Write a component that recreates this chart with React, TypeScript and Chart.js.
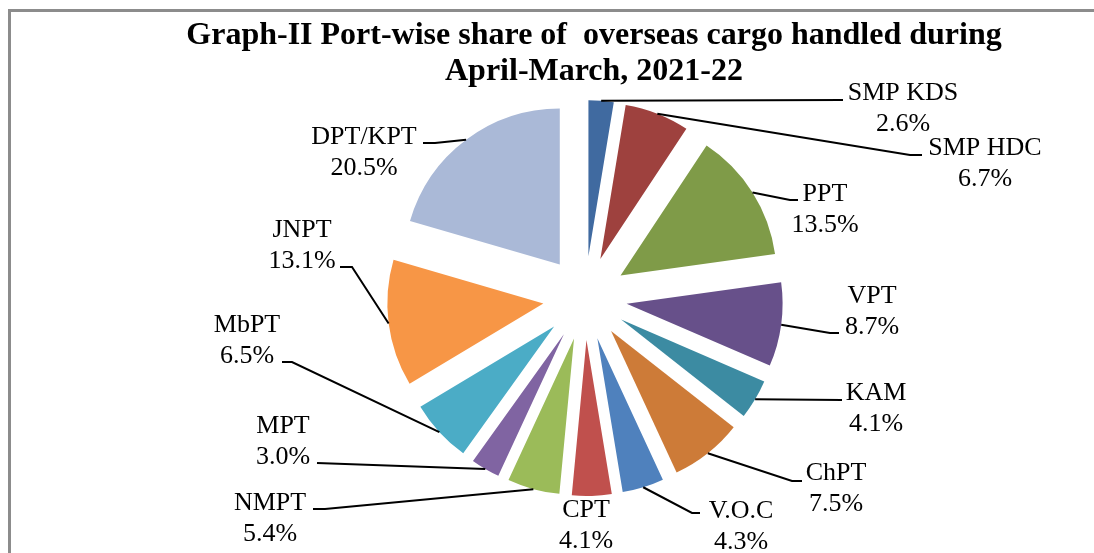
import React, { useEffect, useRef } from "react";
import { Chart, registerables } from "chart.js";

Chart.register(...registerables);

// ---- data ----
const ports = ["SMP KDS", "SMP HDC", "PPT", "VPT", "KAM", "ChPT", "V.O.C", "CPT", "NMPT", "MPT", "MbPT", "JNPT", "DPT/KPT"];
const shares = [2.6, 6.7, 13.5, 8.7, 4.1, 7.5, 4.3, 4.1, 5.4, 3.0, 6.5, 13.1, 20.5];
const titleLines = ["Graph-II Port-wise share of  overseas cargo handled during", "April-March, 2021-22"];

// ---- styles ----
const sliceColors = [
  "#406AA0", "#9E413E", "#7F9B48", "#67508A", "#3C8BA2", "#CD7B38",
  "#4F81BD", "#C0504D", "#9BBB59", "#8064A2", "#4BACC6", "#F79646", "#AAB9D7",
];

// label layout relative to pie centre (px): text centre x / first baseline y
const labelText: [number, number][] = [
  [318, -198], [400, -143], [240, -97], [287, 5], [291, 102], [251, 182],
  [156, 220], [1, 219], [-315, 212], [-302, 135], [-338, 34], [-283, -61], [-221, -154],
];
// leader line elbow (or null) and end point
const leaderElbow: ([number, number] | null)[] = [
  null, [325, -143], [205, -98], [245, 35], null, [207, 183],
  [107, 215], null, [-260, 211], null, [-293, 64], [-233, -31], [-150, -155],
];
const leaderEnd: ([number, number] | null)[] = [
  [258, -198], [337, -143], [213, -98], [254, 35], [257, 102], [217, 183],
  [115, 215], null, [-272, 211], [-268, 165], [-303, 64], [-245, -31], [-162, -155],
];

const EXPLODE = 42;
const LABEL_FONT = '26px "Liberation Serif"';
const LINE_GAP = 31;

const explodePlugin = {
  id: "explodeSlices",
  beforeDatasetDraw(chart: any, args: any) {
    const meta = chart.getDatasetMeta(args.index);
    const ctx = chart.ctx;
    meta.data.forEach((arc: any) => {
      const mid = (arc.startAngle + arc.endAngle) / 2;
      ctx.save();
      ctx.translate(Math.cos(mid) * EXPLODE, Math.sin(mid) * EXPLODE);
      arc.draw(ctx);
      ctx.restore();
    });
    return false;
  },
};

const labelPlugin = {
  id: "leaderLabels",
  afterDatasetsDraw(chart: any) {
    const meta = chart.getDatasetMeta(0);
    const ctx = chart.ctx;
    ctx.save();
    meta.data.forEach((arc: any, i: number) => {
      const { x, y, startAngle, endAngle, outerRadius } = arc;
      const mid = (startAngle + endAngle) / 2;
      const r = EXPLODE + outerRadius;
      const sx = x + Math.cos(mid) * r;
      const sy = y + Math.sin(mid) * r;
      const end = leaderEnd[i];
      if (end) {
        ctx.beginPath();
        ctx.strokeStyle = "#000";
        ctx.lineWidth = 2;
        ctx.moveTo(sx, sy);
        const el = leaderElbow[i];
        if (el) ctx.lineTo(x + el[0], y + el[1]);
        ctx.lineTo(x + end[0], y + end[1]);
        ctx.stroke();
      }
      const [tx, ty] = labelText[i];
      ctx.fillStyle = "#000";
      ctx.font = LABEL_FONT;
      ctx.textAlign = "center";
      ctx.textBaseline = "alphabetic";
      ctx.fillText(ports[i], x + tx, y + ty);
      ctx.fillText(shares[i].toFixed(1) + "%", x + tx, y + ty + LINE_GAP);
    });
    ctx.restore();
  },
};

export default function App() {
  const ref = useRef<HTMLCanvasElement>(null);

  useEffect(() => {
    if (!ref.current) return;
    const chart = new Chart(ref.current, {
      type: "pie",
      data: {
        labels: ports,
        datasets: [
          {
            data: shares,
            backgroundColor: sliceColors,
            borderWidth: 0,
          },
        ],
      },
      options: {
        responsive: false,
        animation: false,
        devicePixelRatio: 1,
        layout: { padding: { left: 0, right: 0, top: 0, bottom: 99 } },
        plugins: {
          // an empty, invisible legend on the right only reserves a narrow strip
          legend: {
            display: true,
            position: "right",
            fullSize: false,
            maxWidth: 18,
            labels: {
              boxWidth: 0,
              boxHeight: 0,
              padding: 10,
              font: { size: 12 },
              generateLabels: () => [
                { text: "", fillStyle: "rgba(0,0,0,0)", strokeStyle: "rgba(0,0,0,0)", lineWidth: 0, hidden: false },
              ],
            },
          },
          tooltip: { enabled: false },
          title: {
            display: true,
            text: titleLines,
            color: "#000",
            font: { family: '"Liberation Serif"', size: 32, weight: "bold", lineHeight: 1.125 },
            padding: { top: 18, bottom: 52 },
          },
        },
      },
      plugins: [explodePlugin, labelPlugin],
    });
    return () => chart.destroy();
  }, []);

  return (
    <div
      style={{
        position: "absolute",
        left: 0,
        top: 0,
        width: 1094,
        height: 553,
        overflow: "hidden",
        background: "#fff",
      }}
    >
      <div
        style={{
          position: "absolute",
          left: 8,
          top: 9,
          width: 2000,
          height: 2000,
          borderLeft: "3px solid #8c8c8c",
          borderTop: "3px solid #8c8c8c",
        }}
      />
      <canvas
        ref={ref}
        width={1188}
        height={553}
        style={{ position: "absolute", left: 0, top: 0, display: "block" }}
      />
    </div>
  );
}
